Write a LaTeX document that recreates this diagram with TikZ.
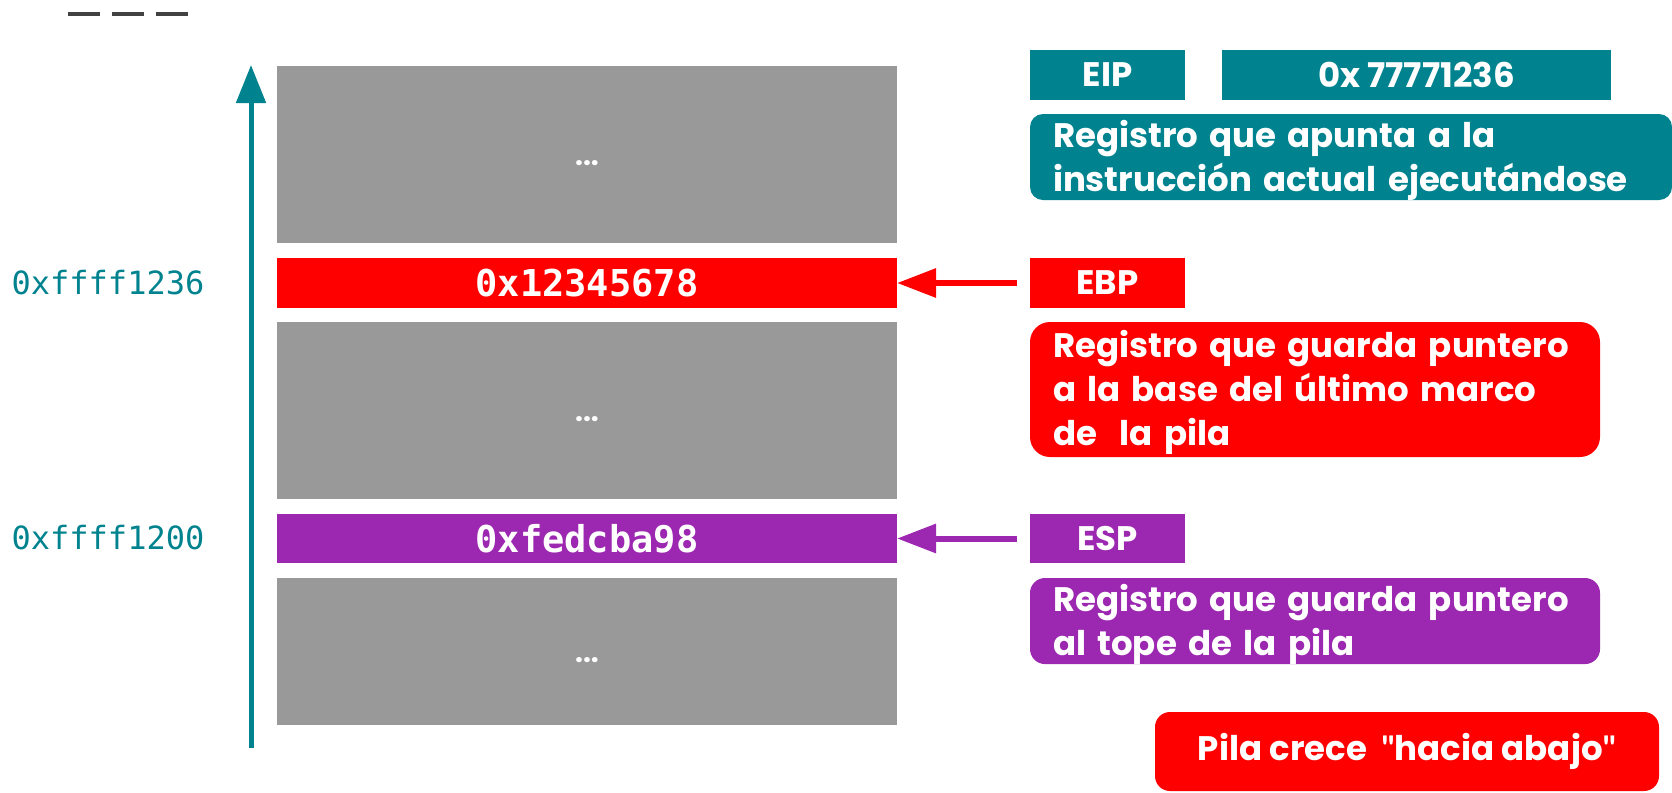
\documentclass[tikz,border=0pt]{standalone}
\usepackage{fontspec}
\setmainfont{Poppins}
\setmonofont{DejaVu Sans Mono}
\newfontfamily\quotefont{Lato}
\usetikzlibrary{arrows.meta}

\definecolor{regteal}{HTML}{00838F}
\definecolor{regred}{HTML}{FF0000}
\definecolor{regpurple}{HTML}{9C27B0}
\definecolor{cellgray}{HTML}{999999}
\definecolor{darkdash}{HTML}{424242}

% dots of a filler cell, dropped a little below the middle
\newcommand{\celldots}{\raisebox{-11pt}[0pt][0pt]{...}}
\newcommand{\straightquote}{{\quotefont\bfseries\symbol{34}}}
% pushes the lines of a description box a bit lower
\newcommand{\topstrut}{\rule{0pt}{33pt}}

\tikzset{
  cell/.style={fill=cellgray, minimum width=620pt, anchor=north west, inner sep=0pt, outer sep=0pt, text=white, font=\fontsize{28}{30}\selectfont\bfseries},
  regbox/.style={minimum width=155pt, minimum height=50pt, anchor=north west, inner sep=0pt, outer sep=0pt, text=white, font=\fontsize{34}{40}\selectfont\bfseries},
  desc/.style={rounded corners=13pt, anchor=north west, align=left, inner xsep=23pt, inner ysep=0pt, outer sep=0pt, text=white, font=\fontsize{34}{44}\selectfont\bfseries},
  addr/.style={text=regteal, font=\fontsize{32}{36}\selectfont\ttfamily},
  ptr/.style={line width=6pt, -{Triangle[length=39pt,width=28pt]}, shorten <=13pt},
}

\begin{document}
\begin{tikzpicture}[x=1pt, y=-1pt]
  \useasboundingbox (0,0) rectangle (1672,792);

  % dashes in the corner
  \draw[darkdash, line width=4pt, dash pattern=on 32pt off 12pt] (68,14) -- (188,14);

  % stack cells
  \node[cell, minimum height=177pt] (top) at (277,66) {\celldots};
  \node[cell, fill=regred, minimum height=50pt, font=\fontsize{37}{40}\selectfont\ttfamily\bfseries] (ebpcell) at (277,258) {0x12345678};
  \node[cell, minimum height=177pt] (mid) at (277,322) {\celldots};
  \node[cell, fill=regpurple, minimum height=49pt, font=\fontsize{37}{40}\selectfont\ttfamily\bfseries] (espcell) at (277,514) {0xfedcba98};
  \node[cell, minimum height=147pt] (low) at (277,578) {\celldots};

  % addresses
  \node[addr] (addrebp) at (108,283) {0xffff1236};
  \node[addr] (addresp) at (108,538) {0xffff1200};

  % growth arrow
  \coordinate (growbot) at (251,748);
  \coordinate (growtop) at (251,65);
  \draw[regteal, line width=5pt, -{Triangle[length=38pt,width=29pt]}] (growbot) -- (growtop);

  % registers
  \node[regbox, fill=regteal] (eip) at (1030,50) {EIP};
  \node[regbox, fill=regteal, minimum width=389pt] (eipval) at (1222,50) {0x 77771236};
  \node[desc, fill=regteal, text width=596pt, minimum height=83pt] (eipdesc) at (1030,114)
    {\topstrut Registro que apunta a la\\instrucción actual ejecutándose};

  \node[regbox, fill=regred] (ebp) at (1030,258) {EBP};
  \node[desc, fill=regred, rounded corners=20pt, text width=524pt, minimum height=135pt] (ebpdesc) at (1030,322)
    {\topstrut Registro que guarda puntero\\a la base del último marco\\de\ \ la pila};

  \node[regbox, fill=regpurple, minimum height=49pt] (esp) at (1030,514) {ESP};
  \node[desc, fill=regpurple, rounded corners=15pt, text width=524pt, minimum height=83pt] (espdesc) at (1030,578)
    {\topstrut Registro que guarda puntero\\al tope de la pila};

  \draw[ptr, regred] (ebp.west) -- (ebpcell.east);
  \draw[ptr, regpurple] (esp.west) -- (espcell.east);

  % note
  \node[regbox, fill=regred, rounded corners=15pt, minimum width=504pt, minimum height=79pt] (note) at (1155,712)
    {Pila crece\ \ \straightquote hacia abajo\straightquote};
\end{tikzpicture}
\end{document}
